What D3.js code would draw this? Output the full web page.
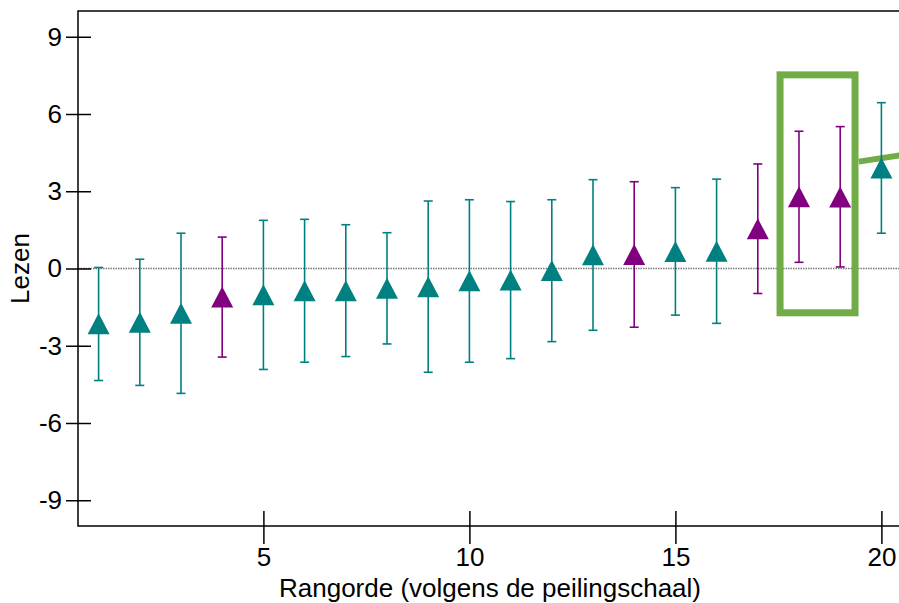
<!DOCTYPE html>
<html>
<head>
<meta charset="utf-8">
<script src="https://cdn.jsdelivr.net/npm/d3@7"></script>
<style>
  body { margin: 0; background: #fff; }
  svg { display: block; font-family: "Liberation Sans", Arial, sans-serif; }
</style>
</head>
<body>
<svg id="chart" width="899" height="603"></svg>
<script>
// rangorde 1..20 with mean and confidence interval
var ranks = d3.range(1, 21);
var means = [-2.15, -2.09, -1.74, -1.11, -1.02, -0.86, -0.86, -0.77, -0.71, -0.48,
             -0.45, -0.08, 0.53, 0.54, 0.66, 0.67, 1.54, 2.79, 2.78, 3.90];
var lower = [-4.35, -4.54, -4.85, -3.44, -3.92, -3.64, -3.42, -2.93, -4.03, -3.64,
             -3.50, -2.84, -2.40, -2.28, -1.81, -2.13, -0.97, 0.24, 0.06, 1.37];
var upper = [0.04, 0.36, 1.37, 1.22, 1.87, 1.91, 1.70, 1.39, 2.62, 2.67,
             2.60, 2.67, 3.45, 3.37, 3.14, 3.47, 4.06, 5.33, 5.51, 6.44];
var highlighted = [4, 14, 17, 18, 19];
var yTicks = [-9, -6, -3, 0, 3, 6, 9];
var xTicks = [5, 10, 15, 20];
var xTitle = "Rangorde (volgens de peilingschaal)";
var yTitle = "Lezen";

var teal = "#008080", purple = "#800080", green = "#70ad47";

var svg = d3.select("#chart");
var x = d3.scaleLinear().domain([0.5, 20.5]).range([78, 902]);
var y = d3.scaleLinear().domain([-10, 10]).range([526, 11]);

var pts = ranks.map(function(r, i){
  return { rank: r, mean: means[i], lo: lower[i], hi: upper[i],
           color: highlighted.indexOf(r) >= 0 ? purple : teal };
});

// zero reference line
svg.append("line")
  .attr("x1", x(0.5)).attr("x2", 899)
  .attr("y1", y(0)).attr("y2", y(0))
  .attr("stroke", "#7a7a7a").attr("stroke-width", 1.6)
  .attr("stroke-dasharray", "1.5,1");

// frame: left, top, bottom
svg.append("path")
  .attr("d", "M899," + y(10) + "H" + x(0.5) + "V" + y(-10) + "H899")
  .attr("fill", "none").attr("stroke", "#000").attr("stroke-width", 1.5);

// y axis ticks crossing the axis
var yAxis = svg.append("g").attr("transform", "translate(" + (x(0.5) - 12) + ",0)")
  .call(d3.axisLeft(y).tickValues(yTicks).tickSize(0).tickPadding(4)
    .tickFormat(function(d){ return String(d); }));
yAxis.select(".domain").remove();
yAxis.selectAll(".tick").append("line")
  .attr("x1", 0).attr("x2", 25).attr("stroke", "#000").attr("stroke-width", 1.5);
yAxis.selectAll("text").attr("font-size", 26).attr("fill", "#000")
  .attr("font-family", "Liberation Sans, Arial, sans-serif");

// x axis ticks crossing the axis
var xAxis = svg.append("g").attr("transform", "translate(0," + (y(-10) - 15) + ")")
  .call(d3.axisBottom(x).tickValues(xTicks).tickSize(0).tickPadding(37)
    .tickFormat(function(d){ return String(d); }));
xAxis.select(".domain").remove();
xAxis.selectAll(".tick").append("line")
  .attr("y1", 0).attr("y2", 33).attr("stroke", "#000").attr("stroke-width", 1.5);
xAxis.selectAll("text").attr("font-size", 26).attr("fill", "#000")
  .attr("font-family", "Liberation Sans, Arial, sans-serif");

// axis titles
svg.append("text")
  .attr("x", 490).attr("y", 597)
  .attr("text-anchor", "middle").attr("font-size", 26)
  .text(xTitle);
svg.append("text")
  .attr("transform", "translate(29," + y(0) + ") rotate(-90)")
  .attr("text-anchor", "middle").attr("font-size", 26)
  .text(yTitle);

// highlight box round ranks 18 and 19, with leader line
svg.append("rect")
  .attr("x", x(17.54)).attr("y", y(7.52))
  .attr("width", x(19.36) - x(17.54)).attr("height", y(-1.72) - y(7.52))
  .attr("fill", "none").attr("stroke", green).attr("stroke-width", 7);
svg.append("line")
  .attr("x1", x(19.45)).attr("y1", y(4.15))
  .attr("x2", x(20.6)).attr("y2", y(4.43))
  .attr("stroke", green).attr("stroke-width", 6);

// error bars
var bars = svg.append("g").selectAll("g.err").data(pts).enter().append("g")
  .attr("class", "err").attr("stroke", function(d){ return d.color; })
  .attr("stroke-width", 1.6);
bars.append("line")
  .attr("x1", function(d){ return x(d.rank); }).attr("x2", function(d){ return x(d.rank); })
  .attr("y1", function(d){ return y(d.lo); }).attr("y2", function(d){ return y(d.hi); });
bars.append("line")
  .attr("x1", function(d){ return x(d.rank) - 4.5; }).attr("x2", function(d){ return x(d.rank) + 4.5; })
  .attr("y1", function(d){ return y(d.hi); }).attr("y2", function(d){ return y(d.hi); });
bars.append("line")
  .attr("x1", function(d){ return x(d.rank) - 4.5; }).attr("x2", function(d){ return x(d.rank) + 4.5; })
  .attr("y1", function(d){ return y(d.lo); }).attr("y2", function(d){ return y(d.lo); });

// triangle markers
svg.append("g").selectAll("path.tri").data(pts).enter().append("path")
  .attr("class", "tri")
  .attr("d", "M0,-10.5L11,10.5L-11,10.5Z")
  .attr("transform", function(d){ return "translate(" + x(d.rank) + "," + y(d.mean) + ")"; })
  .attr("fill", function(d){ return d.color; });
</script>
</body>
</html>
